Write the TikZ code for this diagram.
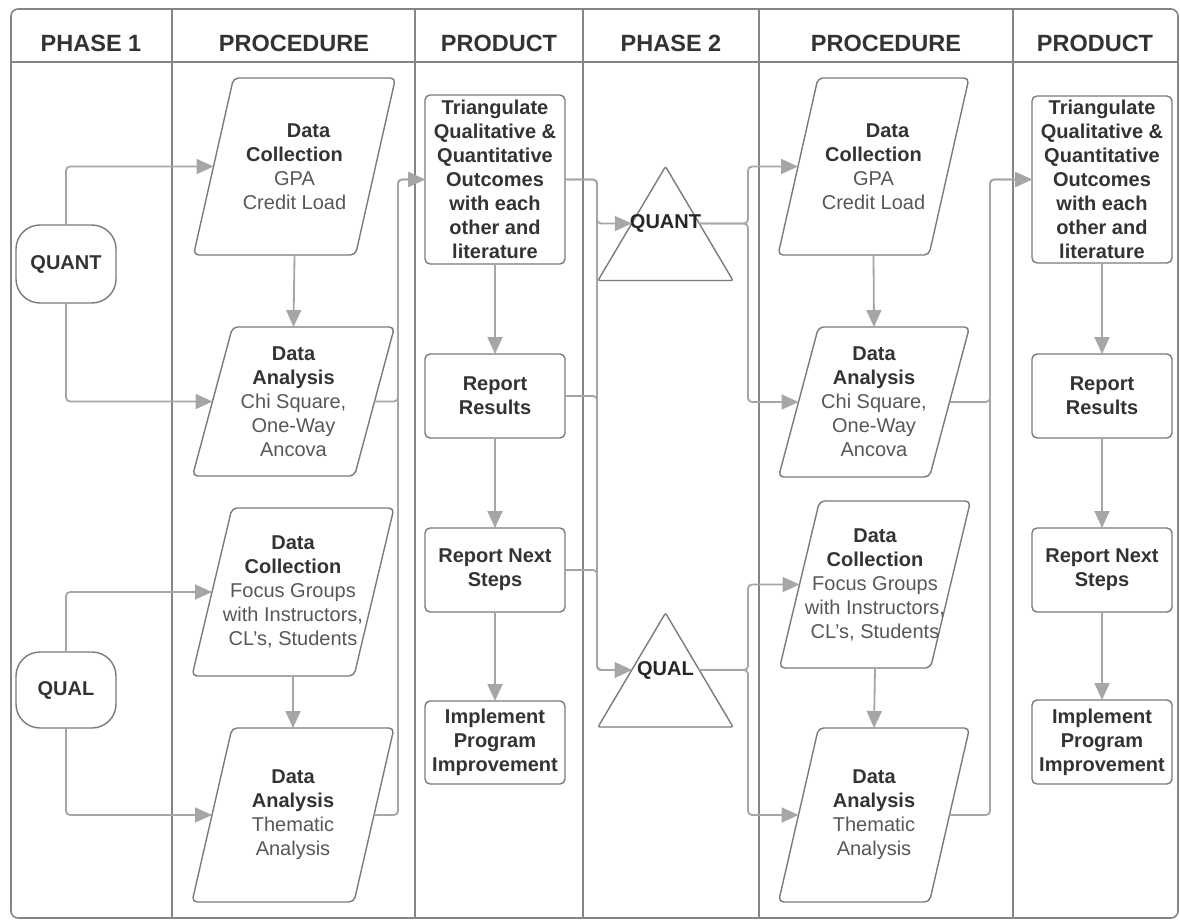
\documentclass[tikz,border=0pt]{standalone}
\usepackage{fontspec}
\setmainfont{Liberation Sans}
\usetikzlibrary{arrows.meta,calc,backgrounds}
\definecolor{framec}{HTML}{858585}
\definecolor{shapec}{HTML}{7A7A7A}
\definecolor{connc}{HTML}{A6A6A6}
\definecolor{titlec}{HTML}{333333}
\definecolor{bodyc}{HTML}{575757}
\newcommand{\ttl}[1]{{\color{titlec}\bfseries #1}}
\begin{document}
\begin{tikzpicture}[x=1pt,y=-1pt,
  every node/.style={inner sep=0pt, outer sep=0pt},
  hdr/.style={font=\fontsize{23.5}{28}\selectfont\bfseries, text=titlec},
  framel/.style={draw=framec, line width=1.6pt},
  bx/.style={draw=shapec, line width=1.4pt, rounded corners=5pt, minimum width=140pt, font=\fontsize{20}{24}\selectfont\bfseries, text=titlec, align=center},
  para/.style={minimum width=#1, font=\fontsize{20}{24}\selectfont, text=bodyc, align=center},
  pshape/.style={draw=shapec, line width=1.4pt, rounded corners=5pt},
  term/.style={draw=shapec, line width=1.4pt, rounded corners=24pt, minimum width=100pt, font=\fontsize{20}{24}\selectfont\bfseries, text=titlec},
  trinode/.style={minimum width=135pt, minimum height=114pt, font=\fontsize{20}{24}\selectfont\bfseries, text=black!85},
  conn/.style={draw=connc, line width=1.8pt, rounded corners=4pt, -{Triangle[length=17pt,width=15pt]}},
  line/.style={draw=connc, line width=1.8pt, rounded corners=4pt}
]
\useasboundingbox (0,0) rectangle (1180,920);

% frame
\draw[framel, rounded corners=7pt] (11,9) rectangle (1178,918);
\draw[framel] (11,62) -- (1178,62);
\foreach \x in {172,415,583,759,1013} \draw[framel] (\x,9) -- (\x,918);

% headers
\node[hdr] (h1) at (91,43) {PHASE 1};
\node[hdr] (h2) at (294,43) {PROCEDURE};
\node[hdr] (h3) at (499,43) {PRODUCT};
\node[hdr] (h4) at (671,43) {PHASE 2};
\node[hdr] (h5) at (886,43) {PROCEDURE};
\node[hdr] (h6) at (1095,43) {PRODUCT};

% phase 1 terminals
\node[term, minimum height=78pt] (quant1) at (66,264) {QUANT};
\node[term, minimum height=76pt] (qual1) at (66,690) {QUAL};

% phase 1 procedure
\node[para=162pt, minimum height=177pt] (dc1) at (294.5,166.5) {\hspace*{28pt}\ttl{Data}\\\ttl{Collection}\\GPA\\Credit Load};
\node[para=162pt, minimum height=149pt] (da1) at (293.5,401.5) {\ttl{Data}\\\ttl{Analysis}\\Chi Square,\\One-Way\\Ancova};
\node[para=162pt, minimum height=168pt] (dcq1) at (293,592) {\ttl{Data}\\\ttl{Collection}\\Focus Groups\\with Instructors,\\CL's, Students};
\node[para=162pt, minimum height=174pt] (daq1) at (293,815) {\ttl{Data}\\\ttl{Analysis}\\Thematic\\Analysis};

% phase 1 product
\node[bx, minimum height=169pt] (tri1) at (495,179.5) {Triangulate\\Qualitative \&\\Quantitative\\Outcomes\\with each\\other and\\literature};
\node[bx, minimum height=84pt] (rr1) at (495,396) {Report\\Results};
\node[bx, minimum height=84pt] (rns1) at (495,570) {Report Next\\Steps};
\node[bx, minimum height=83pt] (imp1) at (495,742.5) {Implement\\Program\\Improvement};

% phase 2 triangles
\node[trinode] (quantT) at (665.5,223.5) {QUANT};
\node[trinode] (qualT) at (665.5,670) {QUAL};

% phase 2 procedure
\node[para=151pt, minimum height=177pt] (dc2) at (873.5,166.5) {\hspace*{28pt}\ttl{Data}\\\ttl{Collection}\\GPA\\Credit Load};
\node[para=151pt, minimum height=150pt] (da2) at (874,402) {\ttl{Data}\\\ttl{Analysis}\\Chi Square,\\One-Way\\Ancova};
\node[para=151pt, minimum height=167pt] (dcq2) at (875,584.5) {\ttl{Data}\\\ttl{Collection}\\Focus Groups\\with Instructors,\\CL's, Students};
\node[para=151pt, minimum height=174pt] (daq2) at (874,815) {\ttl{Data}\\\ttl{Analysis}\\Thematic\\Analysis};

% phase 2 product
\node[bx, minimum height=167pt] (tri2) at (1102,179.5) {Triangulate\\Qualitative \&\\Quantitative\\Outcomes\\with each\\other and\\literature};
\node[bx, minimum height=84pt] (rr2) at (1102,396) {Report\\Results};
\node[bx, minimum height=84pt] (rns2) at (1102,570) {Report Next\\Steps};
\node[bx, minimum height=84pt] (imp2) at (1102,742) {Implement\\Program\\Improvement};

% shapes drawn behind text
\begin{pgfonlayer}{background}
\foreach \n in {dc1,da1,dcq1,daq1,dc2,da2,dcq2,daq2}
  \draw[pshape] ([xshift=20pt]\n.north west) -- ([xshift=20pt]\n.north east) -- ([xshift=-20pt]\n.south east) -- ([xshift=-20pt]\n.south west) -- cycle;
\foreach \n in {quantT,qualT}
  \draw[pshape, rounded corners=2pt] (\n.north) -- (\n.south east) -- (\n.south west) -- cycle;
\end{pgfonlayer}

% helper coordinates
\coordinate (busA) at (398,0);
\coordinate (busB) at (597,0);
\coordinate (busC) at (748,0);
\coordinate (busD) at (990,0);
\coordinate (qtl) at ($(quantT.north)!0.5!(quantT.south west)$);
\coordinate (qtr) at ($(quantT.north)!0.5!(quantT.south east)$);
\coordinate (qll) at ($(qualT.north)!0.5!(qualT.south west)$);
\coordinate (qlr) at ($(qualT.north)!0.5!(qualT.south east)$);

% phase 1 connectors
\draw[conn] (quant1.north) |- (dc1.west);
\draw[conn] (quant1.south) |- (da1.west);
\draw[conn] (qual1.north) |- (dcq1.west);
\draw[conn] (qual1.south) |- (daq1.west);
\draw[conn] (dc1.south) -- (da1.north);
\draw[conn] (dcq1.south) -- (daq1.north);
\draw[conn] (da1.east) -- (da1.east -| busA) |- (tri1.west);
\draw[conn] (daq1.east) -- (daq1.east -| busA) |- (tri1.west);
\draw[conn] (tri1.south) -- (rr1.north);
\draw[conn] (rr1.south) -- (rns1.north);
\draw[conn] (rns1.south) -- (imp1.north);

% product 1 to phase 2
\draw[conn] (tri1.east) -- (tri1.east -| busB) |- (qtl);
\draw[conn] (tri1.east) -- (tri1.east -| busB) |- (qll);
\draw[conn] (rr1.east) -- (rr1.east -| busB) |- (qll);
\draw[conn] (rns1.east) -- (rns1.east -| busB) |- (qll);

% phase 2 connectors
\draw[conn] (qtr) -- (qtr -| busC) |- (dc2.west);
\draw[conn] (qtr) -- (qtr -| busC) |- (da2.west);
\draw[conn] (qlr) -- (qlr -| busC) |- (dcq2.west);
\draw[conn] (qlr) -- (qlr -| busC) |- (daq2.west);
\draw[conn] (dc2.south) -- (da2.north);
\draw[conn] (dcq2.south) -- (daq2.north);
\draw[conn] (da2.east) -- (da2.east -| busD) |- (tri2.west);
\draw[conn] (daq2.east) -- (daq2.east -| busD) |- (tri2.west);
\draw[conn] (tri2.south) -- (rr2.north);
\draw[conn] (rr2.south) -- (rns2.north);
\draw[conn] (rns2.south) -- (imp2.north);
\end{tikzpicture}
\end{document}
